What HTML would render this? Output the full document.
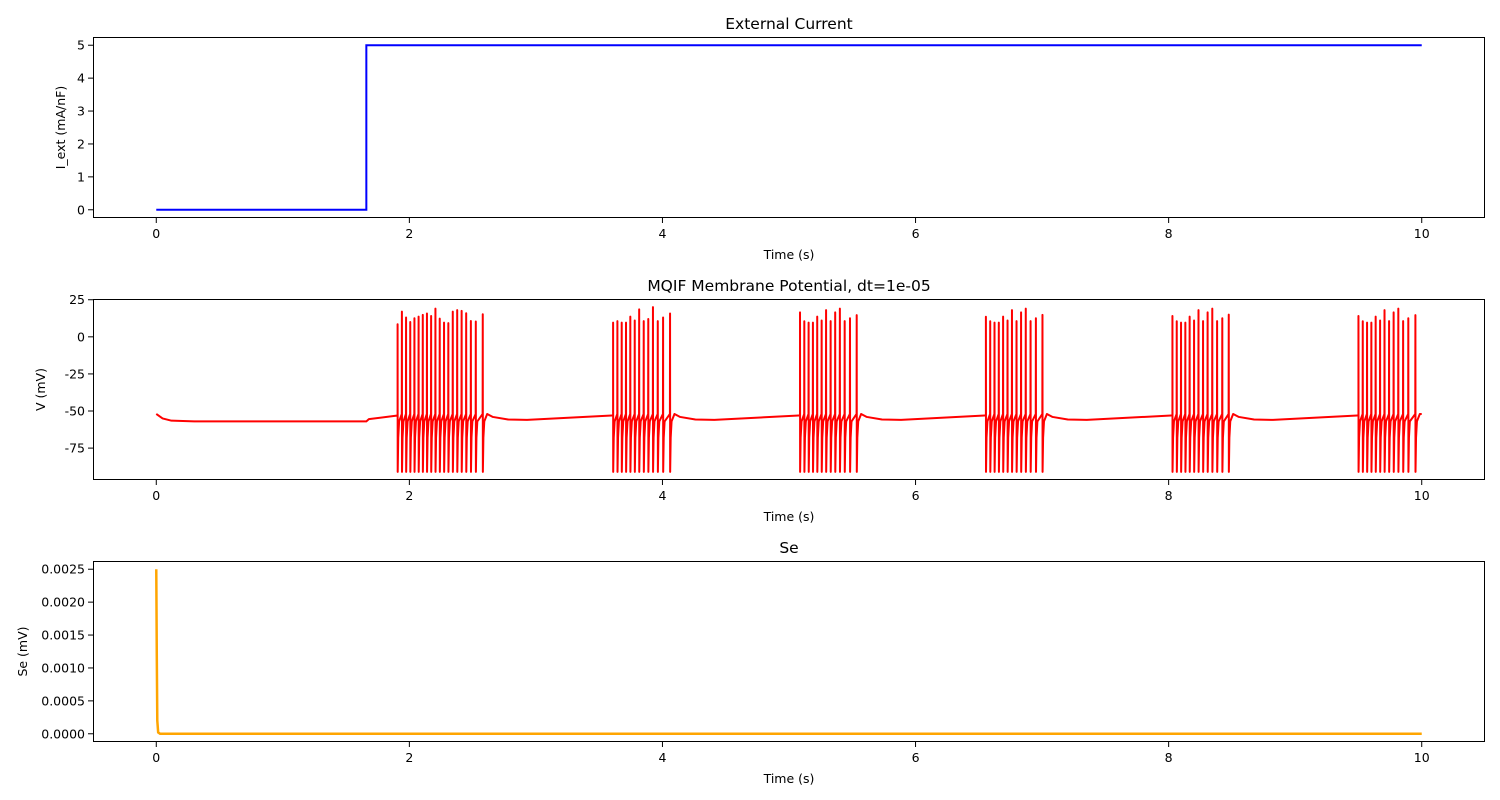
<!DOCTYPE html>
<html><head><meta charset="utf-8"><style>
html,body{margin:0;padding:0;background:#fff;}
svg{display:block;font-family:"DejaVu Sans","Liberation Sans",sans-serif;}
</style></head><body>
<svg id="fig" width="1500" height="800" viewBox="0 0 1500 800" xmlns="http://www.w3.org/2000/svg"></svg>
<script>
// ---- data ----
const xTicks = [0, 2, 4, 6, 8, 10];
const iTicks = [0, 1, 2, 3, 4, 5];
const vTicks = [25, 0, -25, -50, -75];
const seTicks = [0.0025, 0.0020, 0.0015, 0.0010, 0.0005, 0.0000];
const seTickLabels = ["0.0025", "0.0020", "0.0015", "0.0010", "0.0005", "0.0000"];
const stepTimes = [0, 1.66, 1.66, 10];
const stepValues = [0, 0, 5, 5];
const burst1Times = [1.907,1.941,1.974,2.007,2.040,2.073,2.106,2.139,2.172,2.206,2.240,2.274,2.308,2.343,2.378,2.413,2.449,2.486,2.525,2.580];
const burst1Peaks = [8.5,17,13,10,12.5,13.6,14.8,15.7,14,19,12.3,9.6,9.2,17,18,17.5,15.9,10.7,10.3,15.2];
const burst2Times = [3.610,3.644,3.678,3.712,3.746,3.781,3.816,3.852,3.888,3.925,3.963,4.005,4.060];
const burst2Peaks = [9.6,10.6,9.6,9.6,13.6,11,18.5,10.6,12,20,10.6,13,15.7];
const burst3Times = [5.087,5.121,5.155,5.189,5.223,5.258,5.293,5.329,5.365,5.402,5.440,5.482,5.535];
const burst3Peaks = [16.5,10.5,9.6,9.6,13.6,11,18,10.6,16.5,19,10.6,12.5,14.6];
const burst4Times = [6.556,6.590,6.624,6.658,6.692,6.727,6.762,6.798,6.834,6.871,6.909,6.951,7.003];
const burst4Peaks = [13.5,10.5,9.6,9.6,13.6,11,18,10.6,16.5,19,10.6,12.5,14.8];
const burst5Times = [8.030,8.064,8.098,8.132,8.166,8.201,8.236,8.272,8.308,8.345,8.383,8.424,8.475];
const burst5Peaks = [14,10.5,9.6,9.6,13.6,11,18,10.6,16.5,19,10.6,12.5,15];
const burst6Times = [9.500,9.534,9.568,9.602,9.636,9.671,9.706,9.742,9.778,9.815,9.853,9.894,9.950];
const burst6Peaks = [14,10.5,9.6,9.6,13.6,11,18,10.6,16.5,19,10.6,12.5,14.6];
const bursts = [[burst1Times,burst1Peaks],[burst2Times,burst2Peaks],[burst3Times,burst3Peaks],[burst4Times,burst4Peaks],[burst5Times,burst5Peaks],[burst6Times,burst6Peaks]];
const vStart = -52, vRest = -57, vPre = -53, vReset = -91, vBump = -52, vInter = -56;
const seTimes = [0, 0.004, 0.008, 0.015, 0.03, 10];
const seValues = [0.0025, 0.0012, 0.0002, 0.00002, 0, 0];

// ---- layout ----
const NS = "http://www.w3.org/2000/svg";
const svg = document.getElementById('fig');
const L = 93, R = 1485;
const xMin = -0.5, xMax = 10.5;
function xs(t){ return L + (t - xMin) / (xMax - xMin) * (R - L); }
function mk(tag, attrs, parent){ const e = document.createElementNS(NS, tag); for (const k in attrs) e.setAttribute(k, attrs[k]); (parent||svg).appendChild(e); return e; }
function txt(s, attrs, parent){ const e = mk('text', attrs, parent); e.textContent = s; return e; }

function panel(name, top, bot, yMin, yMax, ticks, labels, title, ylabel, ylabelX){
  const g = mk('g', {});
  
  
  const ys = v => bot - (v - yMin) / (yMax - yMin) * (bot - top);
  const t = txt(title, {x:(L+R)/2, y: top-8, 'text-anchor':'middle', 'font-size':15.5, fill:'#000'}, g);
  
  
  const xg = mk('g', {}, g);
  
  
  xTicks.forEach(v => {
    mk('line', {x1:xs(v), x2:xs(v), y1:bot, y2:bot+5, stroke:'#000', 'stroke-width':1}, xg);
    txt(String(v), {x:xs(v), y:bot+20, 'text-anchor':'middle', 'font-size':12.5, fill:'#000'}, xg);
  });
  const xl = txt('Time (s)', {x:(L+R)/2, y:bot+41, 'text-anchor':'middle', 'font-size':12.5, fill:'#000'}, g);
  
  
  const yg = mk('g', {}, g);
  
  
  ticks.forEach((v, i) => {
    mk('line', {x1:L-5, x2:L, y1:ys(v), y2:ys(v), stroke:'#000', 'stroke-width':1}, yg);
    txt(labels[i], {x:L-8, y:ys(v)+4.5, 'text-anchor':'end', 'font-size':12.5, fill:'#000'}, yg);
  });
  const cy = (top+bot)/2;
  const yl = txt(ylabel, {x:ylabelX, y:cy, 'text-anchor':'middle', 'font-size':12.5, fill:'#000', transform:`rotate(-90 ${ylabelX} ${cy})`}, g);
  
  
  return {g, ys, top, bot};
}
function frame(p){
  mk('rect', {x:L+0.5, y:p.top+0.5, width:R-L-1, height:p.bot-p.top-1, fill:'none', stroke:'#000', 'stroke-width':1}, p.g);
}

// Panel 1
const p1 = panel('current', 37, 218, -0.25, 5.25, iTicks, iTicks.map(String), 'External Current', 'I_ext (mA/nF)', 65);
let d = stepTimes.map((t,i) => (i?'L':'M') + xs(t).toFixed(2) + ' ' + p1.ys(stepValues[i]).toFixed(2)).join(' ');
const l1 = mk('path', {d, fill:'none', stroke:'#0000ff', 'stroke-width':2}, p1.g);


frame(p1);

// Panel 2
const p2 = panel('voltage', 299, 480, -96.5, 25.5, vTicks, vTicks.map(String), 'MQIF Membrane Potential, dt=1e-05', 'V (mV)', 45);
const pts = [];
function P(t, v){ pts.push(xs(t).toFixed(2) + ' ' + p2.ys(v).toFixed(2)); }
P(0, vStart); P(0.05, -55); P(0.12, -56.5); P(0.3, vRest); P(stepTimes[1], vRest);
P(stepTimes[1]+0.02, -55.5);
bursts.forEach((b, bi) => {
  const times = b[0], peaks = b[1];
  P(times[0], vPre);
  times.forEach((t, k) => {
    P(t, peaks[k]); P(t + 0.0008, vReset); P(t + 0.005, -68); P(t + 0.012, -57);
    if (k < times.length - 1) P(times[k+1] - 0.001, vPre + 1);
  });
  const last = times[times.length-1];
  if (bi < bursts.length - 1) {
    P(last + 0.035, vBump); P(last + 0.08, -54); P(last + 0.2, -55.7); P(last + 0.35, vInter);
    P(bursts[bi+1][0][0] - 0.01, vPre);
  } else {
    P(Math.min(last + 0.035, 10), vBump); P(10, vBump);
  }
});
const l2 = mk('path', {d:'M' + pts.join(' L'), fill:'none', stroke:'#ff0000', 'stroke-width':2, 'stroke-linejoin':'round'}, p2.g);


frame(p2);

// Panel 3
const p3 = panel('se', 561, 742, -0.000125, 0.002625, seTicks, seTickLabels, 'Se', 'Se (mV)', 27);
d = seTimes.map((t,i) => (i?'L':'M') + xs(t).toFixed(2) + ' ' + p3.ys(seValues[i]).toFixed(2)).join(' ');
const l3 = mk('path', {d, fill:'none', stroke:'#ffa500', 'stroke-width':2.5}, p3.g);


frame(p3);
</script>
</body></html>
